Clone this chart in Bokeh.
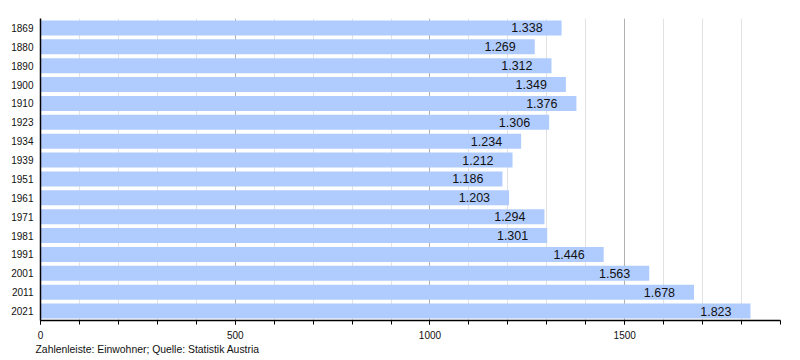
from bokeh.plotting import figure
from bokeh.models import FactorRange, Range1d, SingleIntervalTicker, Title, ColumnDataSource
from bokeh.embed import file_html
from bokeh.resources import INLINE
from bokeh.core.properties import value

years = ["1869", "1880", "1890", "1900", "1910", "1923", "1934", "1939",
         "1951", "1961", "1971", "1981", "1991", "2001", "2011", "2021"]
population = [1338, 1269, 1312, 1349, 1376, 1306, 1234, 1212,
              1186, 1203, 1294, 1301, 1446, 1563, 1678, 1823]
labels = ["{:,}".format(v).replace(",", ".") for v in population]
caption = "Zahlenleiste: Einwohner; Quelle: Statistik Austria"

FONT = "Liberation Sans"

src = ColumnDataSource(dict(year=years, pop=population, label=labels))

p = figure(width=792, height=360, output_backend="svg", toolbar_location=None,
           y_range=FactorRange(factors=list(reversed(years))),
           x_range=Range1d(0, 1900),
           min_border_left=40, min_border_right=12, min_border_top=18, min_border_bottom=40)
p.outline_line_color = None

p.hbar(y="year", right="pop", left=0, height=0.8, source=src,
       fill_color="#b0ccff", line_color=None)
p.text(x="pop", y="year", text="label", source=src, x_offset=-19,
       text_align="right", text_baseline="middle", text_font=value(FONT),
       text_font_size="12.5px", text_color="#111111")

# x axis
p.xaxis.ticker = SingleIntervalTicker(interval=500, num_minor_ticks=5)
p.xaxis.major_tick_out = 4
p.xaxis.major_tick_in = 0
p.xaxis.minor_tick_out = 4
p.xaxis.minor_tick_in = 0
p.xaxis.major_label_standoff = 6
p.xaxis.major_label_text_font = FONT
p.xaxis.major_label_text_font_size = "10px"
p.xaxis.major_label_text_color = "#111111"
p.xaxis.axis_line_color = "black"
p.xaxis.axis_line_width = 1.5
p.xaxis.major_tick_line_color = "black"
p.xaxis.minor_tick_line_color = "black"

# y axis
p.yaxis.major_tick_out = 0
p.yaxis.major_tick_in = 0
p.yaxis.minor_tick_out = 0
p.yaxis.major_label_standoff = 7
p.yaxis.major_label_text_font = FONT
p.yaxis.major_label_text_font_size = "10px"
p.yaxis.major_label_text_color = "#111111"
p.yaxis.axis_line_color = "black"
p.yaxis.axis_line_width = 1.5

# grids
p.ygrid.grid_line_color = None
p.xgrid.grid_line_color = "#b0b0b0"
p.xgrid.minor_grid_line_color = "#e2e2e2"

p.add_layout(Title(text=caption, align="left", offset=-5, standoff=0,
                   text_font=FONT, text_font_size="10.4px", text_font_style="normal",
                   text_color="#111111"), "below")

open("out.html", "w").write(file_html(p, INLINE))
